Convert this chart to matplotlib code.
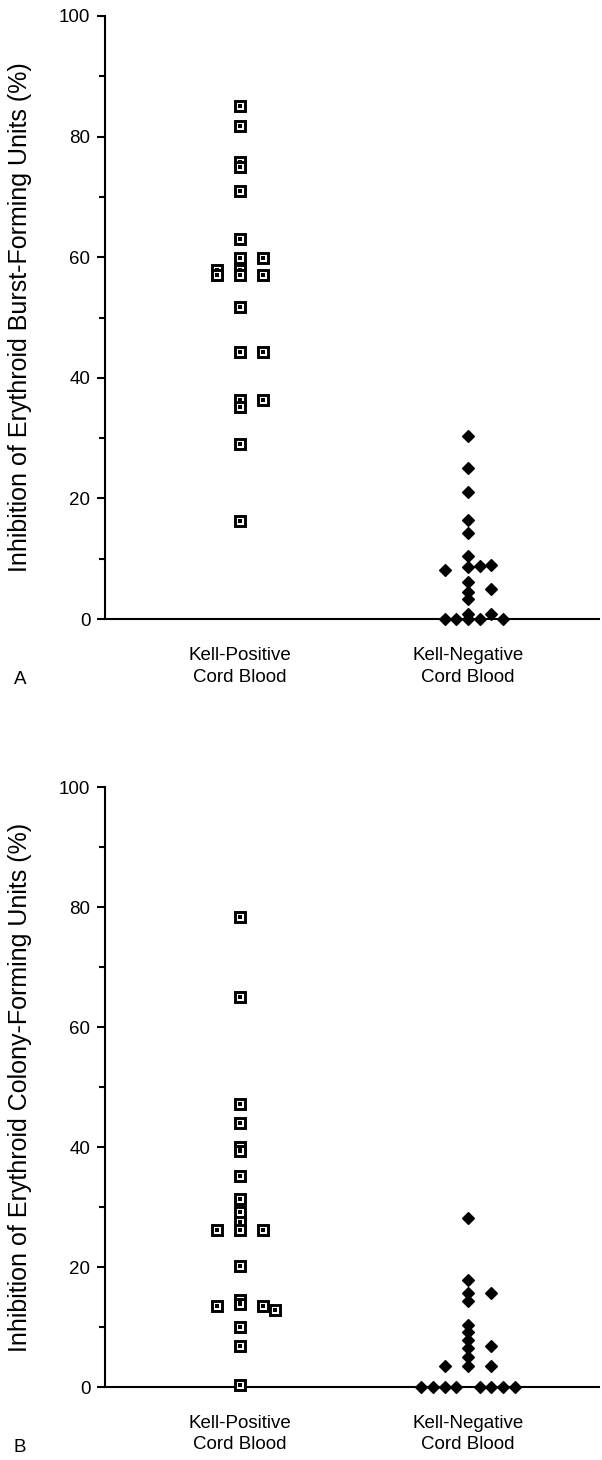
import matplotlib.pyplot as plt
from matplotlib.ticker import MultipleLocator
from matplotlib.transforms import blended_transform_factory

plt.rcParams['font.family'] = ['Liberation Sans', 'DejaVu Sans']

# categories
categories = ['Kell-Positive\nCord Blood', 'Kell-Negative\nCord Blood']

# panel A: BFU-E inhibition (%), with column slot for side-by-side points
a_pos_vals = [85.0, 81.8, 75.8, 74.9, 71.0, 63.1, 59.8, 57.9, 57.1, 51.8, 44.2, 36.4, 35.2, 29.1, 16.3,
              57.9, 57.0,
              59.8, 57.1, 44.2, 36.4]
a_pos_slot = [0] * 15 + [-2] * 2 + [2] * 4

a_neg_vals = [30.4, 25.1, 21.1, 16.4, 14.2, 10.4, 8.6, 6.2, 4.5, 3.3, 0.9, 0.0,
              8.2, 0.0,
              0.0,
              8.8, 0.0,
              9.0, 5.0, 0.9,
              0.0]
a_neg_slot = [0] * 12 + [-2] * 2 + [-1] + [1] * 2 + [2] * 3 + [3]

# panel B: CFU-E inhibition (%)
b_pos_vals = [78.3, 65.0, 47.1, 44.0, 40.0, 39.3, 35.2, 31.3, 29.2, 27.5, 26.1, 20.1, 14.5, 13.8, 10.0, 6.8, 0.3,
              26.1, 13.5,
              26.1, 13.5,
              12.8]
b_pos_slot = [0] * 17 + [-2] * 2 + [2] * 2 + [3]

b_neg_vals = [28.2, 17.9, 15.6, 14.4, 10.3, 9.2, 7.8, 6.5, 5.0, 3.5,
              15.6, 6.8, 3.5,
              3.5,
              0.0, 0.0, 0.0, 0.0, 0.0, 0.0, 0.0, 0.0]
b_neg_slot = [0] * 10 + [2] * 3 + [-2] + [-4, -3, -2, -1, 1, 2, 3, 4]

ylabels = ['Inhibition of Erythroid Burst-Forming Units (%)',
           'Inhibition of Erythroid Colony-Forming Units (%)']
panel_letters = ['A', 'B']

W, H = 602, 1460
fig = plt.figure(figsize=(W / 100, H / 100), dpi=100)

step = 0.0513  # half a marker width in data units
fs = 13.5


def draw_panel(rect, pos_vals, pos_slot, neg_vals, neg_slot, ylabel, letter):
    ax = fig.add_axes(rect)
    # Kell-negative: filled diamonds
    xs = [2 + s * step for s in neg_slot]
    ax.plot(xs, neg_vals, 'D', ms=6.3, mfc='black', mec='black', mew=0.9,
            ls='none', clip_on=False, zorder=3)
    # Kell-positive: open squares with a centre dot
    xs = [1 + s * step for s in pos_slot]
    ax.plot(xs, pos_vals, 's', ms=7.0, mfc='white', mec='black', mew=2.1,
            ls='none', clip_on=False, zorder=3)
    ax.plot(xs, pos_vals, 's', ms=2.6, mfc='black', mec='black', mew=0,
            ls='none', clip_on=False, zorder=4)

    ax.set_xlim(0.408, 2.575)
    ax.set_ylim(0, 100)
    ax.spines['top'].set_visible(False)
    ax.spines['right'].set_visible(False)
    for s in ('left', 'bottom'):
        ax.spines[s].set_linewidth(1.5)
    ax.yaxis.set_major_locator(MultipleLocator(20))
    ax.yaxis.set_minor_locator(MultipleLocator(10))
    ax.tick_params(axis='y', which='major', length=6, width=1.5, pad=4.5,
                   labelsize=fs, direction='out')
    ax.tick_params(axis='y', which='minor', length=4, width=1.5, direction='out')
    ax.set_xticks([])

    tr = blended_transform_factory(ax.transData, ax.transAxes)
    for i, lab in enumerate(categories):
        ax.text(i + 1, -0.047, lab, transform=tr, ha='center', va='top',
                fontsize=fs, linespacing=1.33)

    x0, y0, w, h = rect
    fig.text(20 / W, y0 + h / 2, ylabel, rotation=90, ha='center', va='center',
             fontsize=18)
    fig.text(20 / W, y0 - 61 / H, letter, ha='center', va='center', fontsize=fs)
    return ax


left = 105 / W
width = 494 / W
draw_panel([left, (H - 619) / H, width, 603 / H],
           a_pos_vals, a_pos_slot, a_neg_vals, a_neg_slot, ylabels[0], panel_letters[0])
draw_panel([left, (H - 1387) / H, width, 600 / H],
           b_pos_vals, b_pos_slot, b_neg_vals, b_neg_slot, ylabels[1], panel_letters[1])

fig.savefig('out.png', dpi=100)
